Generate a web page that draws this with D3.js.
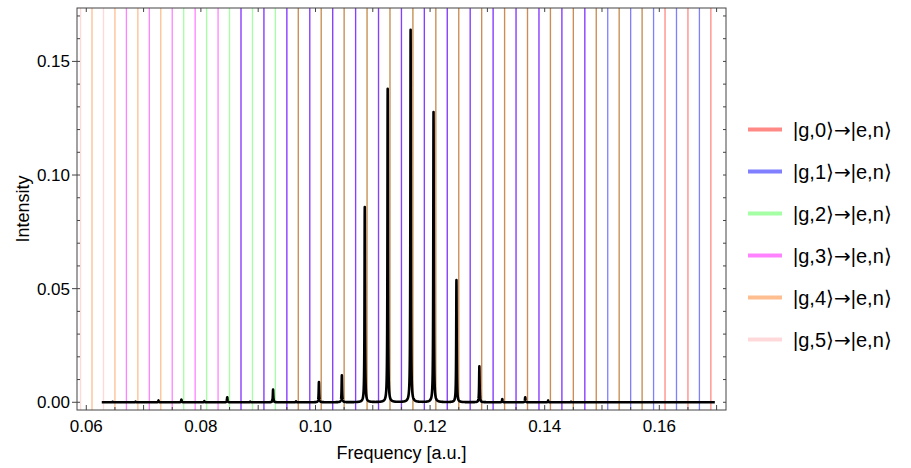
<!DOCTYPE html>
<html><head><meta charset="utf-8">
<script src="https://cdn.jsdelivr.net/npm/d3@7/dist/d3.min.js"></script>
<style>body{margin:0;background:#fff}svg{display:block}text{font-family:"Liberation Sans",Arial,sans-serif;fill:#000}</style>
</head><body><svg id="chart" width="911" height="468"></svg>
<script>
// ---- data ----
const seriesLabels = ["|g,0\u27E9\u2192|e,n\u27E9","|g,1\u27E9\u2192|e,n\u27E9","|g,2\u27E9\u2192|e,n\u27E9","|g,3\u27E9\u2192|e,n\u27E9","|g,4\u27E9\u2192|e,n\u27E9","|g,5\u27E9\u2192|e,n\u27E9"];
const seriesColors = ["rgb(255,20,10)","rgb(10,10,255)","rgb(40,255,40)","rgb(255,30,255)","rgb(255,120,20)","rgb(255,170,170)"];
const seriesOpacity = [0.5,0.52,0.42,0.55,0.48,0.45];
// transition frequencies of each |g,m> -> |e,n> family
const g0Lines = [0.097,0.101,0.105,0.109,0.113,0.117,0.121,0.125,0.129,0.133,0.137,0.141,0.145,0.149,0.153,0.157,0.161,0.165,0.169];
const g1Lines = [0.087,0.091,0.095,0.099,0.103,0.107,0.111,0.115,0.119,0.123,0.127,0.131,0.135,0.139,0.143,0.147,0.151,0.155,0.159,0.163,0.167];
const g2Lines = [0.077,0.081,0.085,0.089,0.093,0.097,0.101,0.105,0.109,0.113,0.117,0.121,0.125,0.129,0.133,0.137,0.141,0.145,0.149,0.153,0.157];
const g3Lines = [0.067,0.071,0.075,0.079,0.083,0.087,0.091,0.095,0.099,0.103,0.107,0.111,0.115,0.119,0.123,0.127,0.131,0.135,0.139,0.143,0.147];
const g4Lines = [0.061,0.065,0.069,0.073];
const g5Lines = [0.059,0.063];
const seriesLines = [g0Lines,g1Lines,g2Lines,g3Lines,g4Lines,g5Lines];
// spectrum peaks (frequency, intensity)
const peakFreqs = [0.0646,0.0686,0.0726,0.0766,0.0806,0.0846,0.0886,0.0926,0.0966,0.1006,0.1046,0.1086,0.1126,0.1166,0.1206,0.1246,0.1286,0.1326,0.1366,0.1406,0.1446];
const peakHeights = [0.0002,0.0003,0.0008,0.0012,0.0005,0.0022,0.0003,0.0056,0.0004,0.0089,0.0118,0.0859,0.1379,0.1639,0.1277,0.0537,0.0158,0.0014,0.0022,0.0008,0.0002];
const spectrumRange = [0.0627,0.1697];
const xTickLabels = [0.06,0.08,0.10,0.12,0.14,0.16];
const xMinorTicks = [0.06,0.065,0.07,0.075,0.08,0.085,0.09,0.095,0.10,0.105,0.11,0.115,0.12,0.125,0.13,0.135,0.14,0.145,0.15,0.155,0.16,0.165,0.17];
const xTopTicks = [0.06,0.07,0.08,0.09,0.10,0.11,0.12,0.13,0.14,0.15,0.16,0.17];
const yTickLabels = [0.00,0.05,0.10,0.15];
const yMinorTicks = [0,0.01,0.02,0.03,0.04,0.05,0.06,0.07,0.08,0.09,0.10,0.11,0.12,0.13,0.14,0.15,0.16,0.17];

// ---- layout ----
const L = 77, R = 726, T = 8, B = 410;
const x = d3.scaleLinear().domain([0.05838,0.17164]).range([L,R]);
const y = d3.scaleLinear().domain([-0.0034,0.1735]).range([B,T]);
const svg = d3.select("#chart");

svg.append("clipPath").attr("id","clip").append("rect").attr("x",L).attr("y",T).attr("width",R-L).attr("height",B-T);
const plot = svg.append("g").attr("clip-path","url(#clip)");

// vertical transition lines (drawn g5 first, g0 last)
for (let m = 5; m >= 0; m--) {
  plot.append("g").selectAll("line").data(seriesLines[m]).join("line")
    .attr("x1",d=>x(d)).attr("x2",d=>x(d)).attr("y1",T).attr("y2",B)
    .attr("stroke",seriesColors[m]).attr("stroke-opacity",seriesOpacity[m]).attr("stroke-width",1.3);
}

// spectrum
const gamma = 0.00005;
let fs = d3.range(spectrumRange[0], spectrumRange[1], 0.00001).concat(peakFreqs).sort((a,b)=>a-b);
const spec = fs.map(f => [f, d3.sum(peakFreqs, (p,i) => peakHeights[i]*gamma*gamma/((f-p)*(f-p)+gamma*gamma))]);
plot.append("path").datum(spec)
  .attr("d", d3.line().x(d=>x(d[0])).y(d=>y(d[1])))
  .attr("fill","none").attr("stroke","#000").attr("stroke-width",2.6).attr("stroke-linejoin","round");

// frame
svg.append("rect").attr("x",L).attr("y",T).attr("width",R-L).attr("height",B-T)
  .attr("fill","none").attr("stroke","#444").attr("stroke-width",1);

const tk = svg.append("g").attr("stroke","#444").attr("stroke-width",1);
tk.selectAll(".bt").data(xMinorTicks).join("line")
  .attr("x1",d=>x(d)).attr("x2",d=>x(d)).attr("y1",B).attr("y2",d=>B-(Math.abs(Math.round(d*100)-d*100)<1e-6?5:3));
tk.selectAll(".tt").data(xTopTicks).join("line")
  .attr("x1",d=>x(d)).attr("x2",d=>x(d)).attr("y1",T).attr("y2",T+4);
tk.selectAll(".lt").data(yMinorTicks).join("line")
  .attr("y1",d=>y(d)).attr("y2",d=>y(d)).attr("x1",L).attr("x2",L+3);
tk.selectAll(".lm").data(yTickLabels).join("line")
  .attr("y1",d=>y(d)).attr("y2",d=>y(d)).attr("x1",L-5).attr("x2",L);
tk.selectAll(".rt").data(yMinorTicks).join("line")
  .attr("y1",d=>y(d)).attr("y2",d=>y(d)).attr("x1",R).attr("x2",R-3);

// tick labels
svg.append("g").selectAll("text").data(xTickLabels).join("text")
  .attr("x",d=>x(d)).attr("y",432).attr("text-anchor","middle").attr("font-size",17)
  .text(d=>d.toFixed(2));
svg.append("g").selectAll("text").data(yTickLabels).join("text")
  .attr("x",70).attr("y",d=>y(d)+6).attr("text-anchor","end").attr("font-size",17)
  .text(d=>d.toFixed(2));

// axis titles
svg.append("text").attr("x",(L+R)/2).attr("y",459).attr("text-anchor","middle").attr("font-size",18).text("Frequency [a.u.]");
svg.append("text").attr("transform","translate(29,209) rotate(-90)").attr("text-anchor","middle").attr("font-size",18).text("Intensity");

// legend
const lg = svg.append("g");
seriesLabels.forEach((lab,i) => {
  const yy = 129.5 + i*42;
  lg.append("line").attr("x1",748).attr("x2",782).attr("y1",yy).attr("y2",yy)
    .attr("stroke",seriesColors[i]).attr("stroke-opacity",seriesOpacity[i]).attr("stroke-width",4);
  const t = lg.append("text").attr("x",793).attr("y",yy+7).attr("font-size",20);
  const parts = lab.split("\u2192");
  t.append("tspan").text(parts[0]);
  t.append("tspan").attr("font-family","DejaVu Sans").attr("font-size",20).text("\u2192");
  t.append("tspan").text(parts[1]);
});
</script></body></html>
